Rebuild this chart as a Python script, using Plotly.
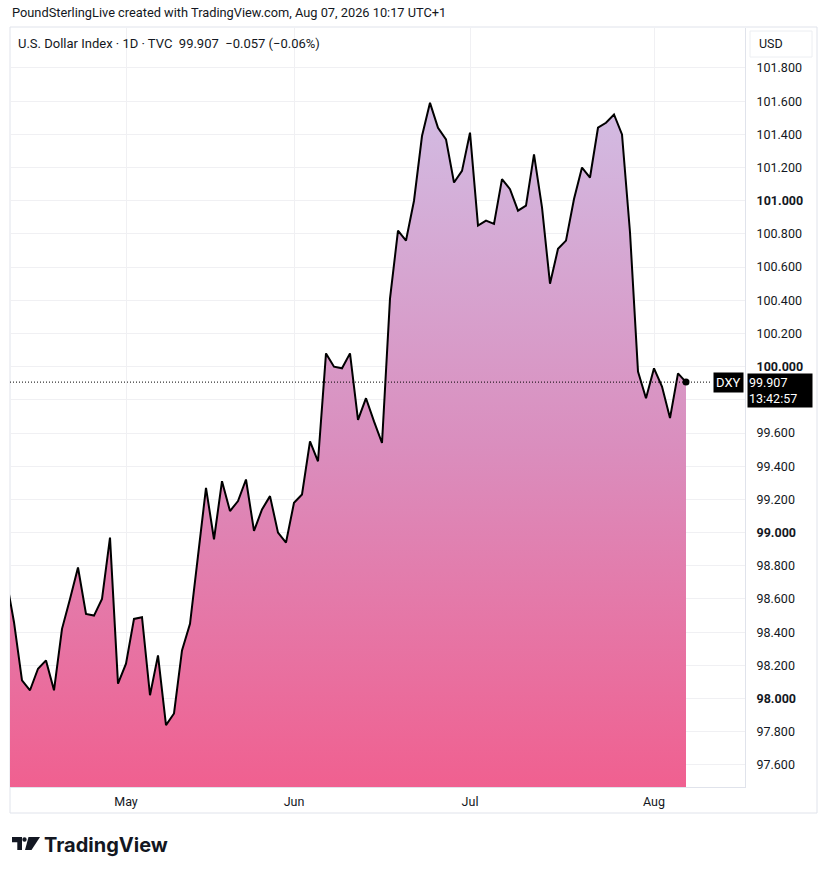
import plotly.graph_objects as go
import pandas as pd

# DXY daily closes (first bar Apr 10 2026, last Aug 07 2026)
dxy_close = [
    98.73, 98.46, 98.11, 98.05, 98.18, 98.23, 98.05, 98.42, 98.60, 98.79,
    98.51, 98.50, 98.60, 98.97, 98.09, 98.21, 98.48, 98.49, 98.02, 98.26,
    97.84, 97.91, 98.29, 98.45, 98.86, 99.27, 98.96, 99.31, 99.13, 99.19,
    99.32, 99.01, 99.14, 99.22, 99.00, 98.94, 99.18, 99.23, 99.55, 99.43,
    100.08, 100.00, 99.99, 100.08, 99.68, 99.81, 99.67, 99.54, 100.41, 100.82,
    100.76, 101.00, 101.39, 101.59, 101.44, 101.37, 101.11, 101.18, 101.41, 100.85,
    100.88, 100.86, 101.13, 101.07, 100.94, 100.97, 101.28, 100.96, 100.50, 100.71,
    100.76, 101.01, 101.20, 101.14, 101.44, 101.47, 101.52, 101.40, 100.81, 99.97,
    99.81, 99.99, 99.88, 99.69, 99.96, 99.907,
]
bar_dates = pd.bdate_range("2026-04-10", periods=len(dxy_close))

month_ticks = ["2026-05-01", "2026-06-01", "2026-07-01", "2026-08-03"]
month_labels = ["May", "Jun", "Jul", "Aug"]

# 99.800 sits under the last-price label, so it is left blank like in TradingView
price_ticks = [97.6, 97.8, 98.0, 98.2, 98.4, 98.6, 98.8, 99.0, 99.2, 99.4, 99.6,
               99.8, 100.0, 100.2, 100.4, 100.6, 100.8, 101.0, 101.2, 101.4,
               101.6, 101.8]
price_labels = ["97.600", "97.800", "<b>98.000</b>", "98.200", "98.400", "98.600",
                "98.800", "<b>99.000</b>", "99.200", "99.400", "99.600", "",
                "<b>100.000</b>", "100.200", "100.400", "100.600", "100.800",
                "<b>101.000</b>", "101.200", "101.400", "101.600", "101.800"]

last_price = dxy_close[-1]
change = -0.057
change_pct = -0.06
countdown = "13:42:57"

W, H = 827, 875
PLOT_L, PLOT_R, PLOT_T, PLOT_B = 10, 745, 28, 787   # plot box in pixels
ML, MR, MT, MB = PLOT_L, W - PLOT_R, PLOT_T, H - PLOT_B
INK = "#131722"
FONT = "Roboto"


def px(x):
    return (x - PLOT_L) / (PLOT_R - PLOT_L)


def py(y):
    return (PLOT_B - y) / (PLOT_B - PLOT_T)


fig = go.Figure()

# area + line
fig.add_trace(go.Scatter(
    x=bar_dates, y=dxy_close, mode="lines",
    line=dict(color="#000000", width=2),
    fill="tozeroy",
    fillgradient=dict(type="vertical",
                      colorscale=[[0, "rgb(240,96,144)"], [0.5, "rgb(218,142,190)"],
                                  [1, "rgb(210,188,227)"]],
                      start=97.47, stop=101.59),
    hoverinfo="skip", showlegend=False,
))
# last price dot
fig.add_trace(go.Scatter(
    x=[bar_dates[-1]], y=[last_price], mode="markers",
    marker=dict(color="#000000", size=7), hoverinfo="skip", showlegend=False,
))

fig.update_layout(
    width=W, height=H,
    margin=dict(l=ML, r=MR, t=MT, b=MB),
    paper_bgcolor="#ffffff", plot_bgcolor="#ffffff",
    font=dict(family=FONT, color=INK, size=12),
    showlegend=False,
)

fig.update_xaxes(
    type="date",
    range=["2026-04-10 12:00", "2026-08-18 09:00"],
    rangebreaks=[dict(bounds=["sat", "mon"])],
    tickvals=month_ticks, ticktext=month_labels,
    tickfont=dict(size=12.5, color=INK),
    ticks="", ticklabelstandoff=3,
    showgrid=True, gridcolor="#f0f0f3", gridwidth=1,
    showline=True, linecolor="#e0e3eb", linewidth=1,
    zeroline=False, fixedrange=True,
)
fig.update_yaxes(
    side="right",
    range=[97.467, 102.041],
    tickvals=price_ticks, ticktext=price_labels,
    tickfont=dict(size=12.5, color=INK),
    ticks="", ticklabelstandoff=8,
    showgrid=True, gridcolor="#f0f0f3", gridwidth=1,
    showline=True, linecolor="#e0e3eb", linewidth=1,
    zeroline=False, fixedrange=True,
)

shapes = [
    # outer chart frame
    dict(type="rect", xref="paper", yref="paper",
         x0=px(10), x1=px(817), y0=py(813), y1=py(27),
         line=dict(color="#e0e3eb", width=1), fillcolor="rgba(0,0,0,0)", layer="below"),
    # USD box
    dict(type="rect", xref="paper", yref="paper",
         x0=px(750), x1=px(812), y0=py(57), y1=py(31),
         line=dict(color="#eceef2", width=1), fillcolor="rgba(0,0,0,0)"),
    # last price dotted line
    dict(type="line", xref="paper", yref="y",
         x0=0, x1=px(712), y0=last_price, y1=last_price,
         line=dict(color="#000000", width=1, dash="1px,2px")),
    # TradingView logo
    dict(type="path", xref="paper", yref="paper", line=dict(width=0), fillcolor=INK,
         path="M {} {} L {} {} L {} {} L {} {} L {} {} L {} {} Z".format(
             px(12), py(837), px(22), py(837), px(22), py(850),
             px(17.3), py(850), px(17.3), py(842.3), px(12), py(842.3))),
    dict(type="circle", xref="paper", yref="paper", line=dict(width=0), fillcolor=INK,
         x0=px(22.3), x1=px(26.7), y0=py(841.7), y1=py(837.3)),
    dict(type="path", xref="paper", yref="paper", line=dict(width=0), fillcolor=INK,
         path="M {} {} L {} {} L {} {} L {} {} Z".format(
             px(28.5), py(837), px(40), py(837), px(31.5), py(850), px(25), py(850))),
]
fig.update_layout(shapes=shapes)

annotations = [
    dict(text="PoundSterlingLive created with TradingView.com, Aug 07, 2026 10:17 UTC+1",
         x=px(10), y=py(13), xanchor="left", yanchor="middle",
         font=dict(size=12.8, color=INK)),
    dict(text="U.S. Dollar Index · 1D · TVC  {:.3f}  \u2212{:.3f} (\u2212{:.2f}%)".format(
        last_price, abs(change), abs(change_pct)),
         x=px(16), y=py(43), xanchor="left", yanchor="middle",
         font=dict(size=13, color=INK)),
    dict(text="USD", x=px(757), y=py(44), xanchor="left", yanchor="middle",
         font=dict(size=12.5, color=INK)),
    dict(text="DXY", x=px(744), y=py(382), xanchor="right", yanchor="middle",
         bgcolor="#000000", borderpad=2, font=dict(size=13, color="#ffffff")),
    dict(text="{:.3f}<br>{}".format(last_price, countdown), align="left",
         x=px(747), y=py(373), xanchor="left", yanchor="top",
         width=62, bgcolor="#000000", borderpad=1,
         font=dict(size=12.5, color="#ffffff")),
    dict(text="<b>TradingView</b>", x=px(42), y=py(845), xanchor="left", yanchor="middle",
         font=dict(family="Inter", size=20, color=INK)),
]
for a in annotations:
    a.setdefault("xref", "paper")
    a.setdefault("yref", "paper")
    a.setdefault("showarrow", False)
fig.update_layout(annotations=annotations)

# drop the default 8px body margin so the figure sits at the page corner
fig.write_html("out.html", config={"displayModeBar": False},
               post_script="document.body.style.margin='0px';")
